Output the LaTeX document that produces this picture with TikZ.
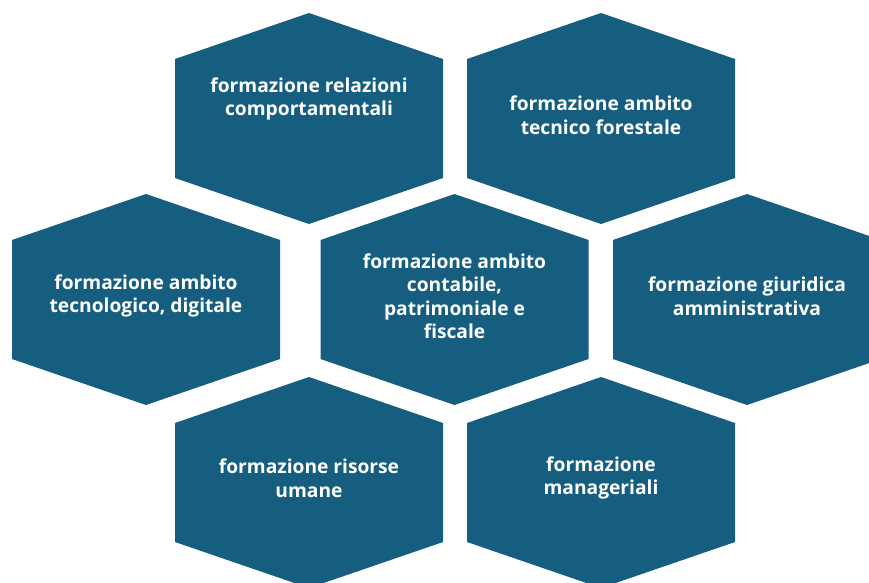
\documentclass[tikz,border=0pt]{standalone}
\usepackage{fontspec}
\setmainfont{Open Sans}
\usepackage{tikz}
\definecolor{hexblue}{RGB}{22, 94, 128}

\begin{document}
\begin{tikzpicture}[
   x=1pt, y=-1pt,
   hexcell/.style={fill=hexblue, draw=none},
   hexlabel/.style={text=white, font=\bfseries\fontsize{19.2}{23.5}\selectfont,
                    align=center, inner sep=0}
  ]

  % half width, half height, half side
  \pgfmathsetmacro{\w}{134}
  \pgfmathsetmacro{\h}{105.5}
  \pgfmathsetmacro{\s}{59.5}

  \useasboundingbox (0, 0) rectangle (869, 582);
  \clip (0, 0) rectangle (869, 582);

  \foreach \X/\Y in {309/118.5, 601/118.5, 146/299.5, 454.5/299.5, 747/299.5,
                     309/482.5, 601/482.5} {
    \fill[hexcell] (\X, \Y - \h) -- (\X + \w, \Y - \s) -- (\X + \w, \Y + \s)
      -- (\X, \Y + \h) -- (\X - \w, \Y + \s) -- (\X - \w, \Y - \s) -- cycle;
  }

  \node (rel) at (309, 99) [hexlabel] {formazione relazioni\\comportamentali};
  \node (for) at (601, 115) [hexlabel] {formazione ambito\\tecnico forestale};
  \node (tec) at (146, 296) [hexlabel] {formazione ambito\\tecnologico, digitale};
  \node (con) at (454.5, 296) [hexlabel] {formazione ambito\\contabile,\\patrimoniale e\\fiscale};
  \node (giu) at (747, 296) [hexlabel] {formazione giuridica\\amministrativa};
  \node (ris) at (309, 478) [hexlabel] {formazione risorse\\umane};
  \node (man) at (601, 478) [hexlabel] {formazione\\manageriali};

\end{tikzpicture}
\end{document}
